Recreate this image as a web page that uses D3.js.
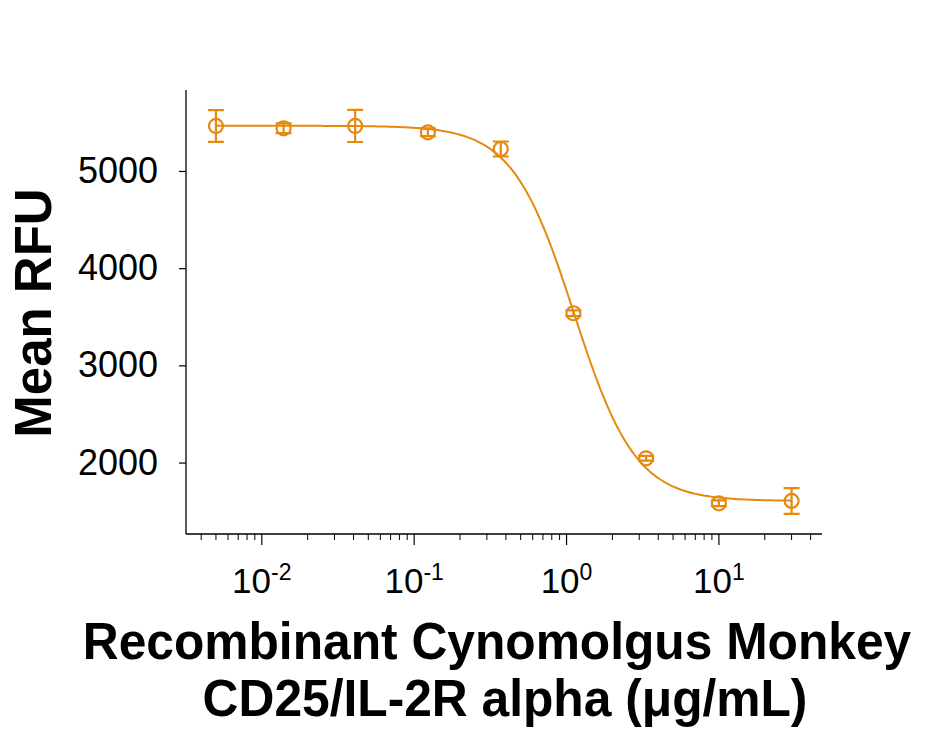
<!DOCTYPE html>
<html>
<head>
<meta charset="utf-8">
<script src="https://cdn.jsdelivr.net/npm/d3@7"></script>
<style>
  html, body { margin: 0; padding: 0; background: #fff; }
  svg { display: block; font-family: "Liberation Sans", Arial, sans-serif; }
</style>
</head>
<body>
<svg id="chart" width="928" height="733"></svg>
<script>
// ---- data ----
const concentrations = [0.005, 0.0139, 0.041, 0.123, 0.37, 1.11, 3.33, 10, 30]; // µg/mL
const meanRFU        = [5463, 5439, 5463, 5398, 5226, 3536, 2044, 1581, 1605];
const errorRFU       = [163, 50, 165, 40, 77, 30, 25, 30, 132];
const yTickValues    = [2000, 3000, 4000, 5000];
const xMajorTicks    = [0.01, 0.1, 1, 10];
const xTickExponents = ["-2", "-1", "0", "1"];
// four-parameter logistic fit shown as the curve
const fitTop = 5465, fitBottom = 1605, fitEC50 = 1.12, fitHill = 2.15;

const color = "#e6890f";
const svg = d3.select("#chart");
svg.append("rect").attr("width", 928).attr("height", 733).attr("fill", "#fff");

const x = d3.scaleLog().domain([0.00318, 47.5]).range([186, 822]);
const y = d3.scaleLinear().domain([1265, 5833]).range([534, 90]);

// ---- y axis ----
const yAxis = d3.axisLeft(y).tickValues(yTickValues).tickSize(7).tickPadding(21)
  .tickFormat(d3.format("d"));
const gy = svg.append("g").attr("transform", "translate(186,0)").call(yAxis);
gy.select(".domain").attr("stroke", "#000").attr("stroke-width", 1.3)
  .attr("d", `M0,${y.range()[1]}V${y.range()[0]}`);
gy.selectAll(".tick line").attr("stroke", "#000").attr("stroke-width", 1.2);
gy.selectAll(".tick text").attr("font-size", 36).attr("fill", "#000")
  .attr("font-family", "'Liberation Sans', Arial, sans-serif");

// ---- x axis ----
const minorTicks = [];
for (let e = -3; e <= 1; e++) {
  for (let m = 2; m <= 9; m++) {
    const v = m * Math.pow(10, e);
    if (v >= x.domain()[0] && v <= x.domain()[1]) minorTicks.push(v);
  }
}
const gx = svg.append("g").attr("transform", "translate(0,534)");
gx.append("line").attr("x1", 186).attr("x2", 822).attr("y1", 0).attr("y2", 0)
  .attr("stroke", "#000").attr("stroke-width", 1.3);
gx.selectAll(".minor").data(minorTicks).join("line").attr("class", "minor")
  .attr("x1", d => x(d)).attr("x2", d => x(d)).attr("y1", 0).attr("y2", 6)
  .attr("stroke", "#000").attr("stroke-width", 1);
gx.selectAll(".major").data(xMajorTicks).join("line").attr("class", "major")
  .attr("x1", d => x(d)).attr("x2", d => x(d)).attr("y1", 0).attr("y2", 11)
  .attr("stroke", "#000").attr("stroke-width", 1.2);
const xl = gx.selectAll(".xlab").data(xMajorTicks).join("text").attr("class", "xlab")
  .attr("x", d => x(d)).attr("y", 59).attr("text-anchor", "middle")
  .attr("font-size", 35).attr("fill", "#000");
xl.append("tspan").text("10");
xl.append("tspan").attr("dy", -13).attr("font-size", 23).text((d, i) => xTickExponents[i]);

// ---- fitted curve ----
const logistic = c => fitBottom + (fitTop - fitBottom) / (1 + Math.pow(c / fitEC50, fitHill));
const curveX = d3.range(0, 301).map(i => {
  const lo = Math.log10(concentrations[0]), hi = Math.log10(concentrations[concentrations.length - 1]);
  return Math.pow(10, lo + (hi - lo) * i / 300);
});
svg.append("path")
  .attr("d", d3.line().x(d => x(d)).y(d => y(logistic(d)))(curveX))
  .attr("fill", "none").attr("stroke", color).attr("stroke-width", 2);

// ---- error bars & markers ----
const pts = concentrations.map((c, i) => ({ c, m: meanRFU[i], e: errorRFU[i] }));
const g = svg.append("g").attr("stroke", color).attr("stroke-width", 2.2).attr("fill", "none");
g.selectAll(".eb").data(pts).join("path").attr("class", "eb")
  .attr("d", d => {
    const cx = x(d.c), t = y(d.m + d.e), b = y(d.m - d.e), w = 8;
    return `M${cx},${t}V${b}M${cx - w},${t}H${cx + w}M${cx - w},${b}H${cx + w}`;
  });
g.selectAll("circle").data(pts).join("circle")
  .attr("cx", d => x(d.c)).attr("cy", d => y(d.m)).attr("r", 7);

// ---- axis titles ----
svg.append("text").attr("transform", "translate(51,313) rotate(-90)")
  .attr("text-anchor", "middle").attr("font-size", 51).attr("font-weight", "bold")
  .attr("fill", "#000").text("Mean RFU");
svg.append("text").attr("transform", "translate(497,659) scale(0.956,1)")
  .attr("text-anchor", "middle")
  .attr("font-size", 52).attr("font-weight", "bold").attr("fill", "#000")
  .text("Recombinant Cynomolgus Monkey");
svg.append("text").attr("transform", "translate(505,716) scale(0.956,1)")
  .attr("text-anchor", "middle")
  .attr("font-size", 52).attr("font-weight", "bold").attr("fill", "#000")
  .text("CD25/IL-2R alpha (μg/mL)");
</script>
</body>
</html>
